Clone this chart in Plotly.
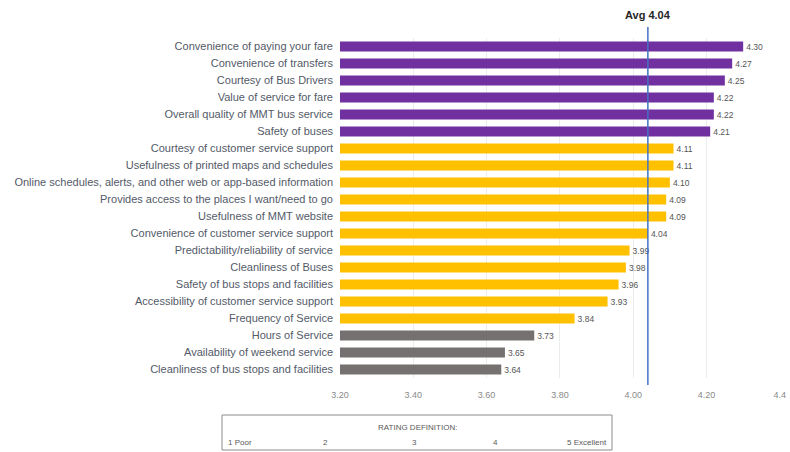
import plotly.graph_objects as go

categories = [
    "Convenience of paying your fare",
    "Convenience of transfers",
    "Courtesy of Bus Drivers",
    "Value of service for fare",
    "Overall quality of MMT bus service",
    "Safety of buses",
    "Courtesy of customer service support",
    "Usefulness of printed maps and schedules",
    "Online schedules, alerts, and other web or app-based information",
    "Provides access to the places I want/need to go",
    "Usefulness of MMT website",
    "Convenience of customer service support",
    "Predictability/reliability of service",
    "Cleanliness of Buses",
    "Safety of bus stops and facilities",
    "Accessibility of customer service support",
    "Frequency of Service",
    "Hours of Service",
    "Availability of weekend service",
    "Cleanliness of bus stops and facilities",
]
values = [4.30, 4.27, 4.25, 4.22, 4.22, 4.21, 4.11, 4.11, 4.10, 4.09, 4.09,
          4.04, 3.99, 3.98, 3.96, 3.93, 3.84, 3.73, 3.65, 3.64]
groups = ["high"] * 6 + ["mid"] * 11 + ["low"] * 3
avg_value = 4.04
x_ticks = [3.2, 3.4, 3.6, 3.8, 4.0, 4.2, 4.4]
x_tick_text = ["3.20", "3.40", "3.60", "3.80", "4.00", "4.20", "4.4"]
rating_labels = ["1 Poor", "2", "3", "4", "5 Excellent"]

group_colors = {"high": "#7030A0", "mid": "#FFC000", "low": "#767171"}
colors = [group_colors[g] for g in groups]

W, H = 790, 452
ml, mr, mt, mb = 340, 10, 38, 74
pw, ph = W - ml - mr, H - mt - mb

def px_x(p):
    return (p - ml) / pw

def px_y(p):
    return (H - mb - p) / ph

font = "Liberation Sans"
txt = "#535a68"

fig = go.Figure()
fig.add_trace(go.Bar(
    y=categories, x=values, orientation="h",
    marker=dict(color=colors, line=dict(width=0)),
    width=0.58,
    text=[f"{v:.2f}" for v in values], textposition="outside",
    textfont=dict(family=font, size=9.5, color="#555555"),
    cliponaxis=False,
))

fig.update_layout(
    width=W, height=H,
    margin=dict(l=ml, r=mr, t=mt, b=mb),
    plot_bgcolor="white", paper_bgcolor="white",
    showlegend=False,
    font=dict(family=font, size=10, color=txt),
)
fig.update_xaxes(
    range=[3.2, 4.4005], tickvals=x_ticks, ticktext=x_tick_text,
    showgrid=True, gridcolor="#ececec", gridwidth=1,
    zeroline=False, showline=False,
    tickfont=dict(family=font, size=9, color="#8a8a8a"),
    ticks="", ticklabelstandoff=10, ticklabeloverflow="allow",
    automargin=False,
)
fig.update_yaxes(
    autorange="reversed", showgrid=False, showline=False,
    ticks="", ticklabelstandoff=6,
    tickfont=dict(family=font, size=11, color=txt),
)

# Average line
fig.add_shape(type="line", xref="x", yref="paper",
              x0=avg_value, x1=avg_value, y0=px_y(385), y1=px_y(27),
              line=dict(color="#4472C4", width=1.5))
fig.add_annotation(xref="x", yref="paper", x=avg_value, y=px_y(15),
                   text=f"<b>Avg {avg_value:.2f}</b>", showarrow=False,
                   font=dict(family=font, size=11, color="#262626"),
                   xanchor="center", yanchor="middle")

# Rating definition box
bx0, bx1, by0, by1 = 222, 612, 415, 450
fig.add_shape(type="rect", xref="paper", yref="paper",
              x0=px_x(bx0), x1=px_x(bx1), y0=px_y(by1), y1=px_y(by0),
              line=dict(color="#8c8c8c", width=1), fillcolor="white")
fig.add_annotation(xref="paper", yref="paper", x=px_x((bx0 + bx1) / 2), y=px_y(427),
                   text="RATING DEFINITION:", showarrow=False,
                   font=dict(family=font, size=8, color="#595959"),
                   xanchor="center", yanchor="middle")
rating_x = [226, 325, 414, 495, 609]
anchors = ["left", "center", "center", "center", "right"]
for lab, rx, an in zip(rating_labels, rating_x, anchors):
    fig.add_annotation(xref="paper", yref="paper", x=px_x(rx), y=px_y(442),
                       text=lab, showarrow=False,
                       font=dict(family=font, size=8, color="#595959"),
                       xanchor=an, yanchor="middle")

fig.write_html("out.html")
